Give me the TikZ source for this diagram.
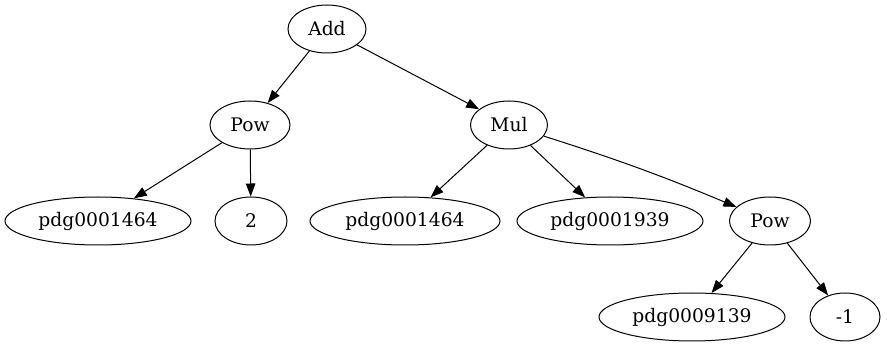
\documentclass[tikz,border=0pt]{standalone}
\usepackage{fontspec}
\setmainfont{DejaVu Serif}
\usetikzlibrary{shapes.geometric,arrows.meta}
\tikzset{
  tnode/.style={draw, ellipse, line width=1pt, inner sep=0pt, minimum height=48pt, font=\fontsize{18.7}{22}\selectfont},
  tedge/.style={draw, line width=1pt, -{Triangle[length=13pt,width=9.5pt]}}
}
\begin{document}
\begin{tikzpicture}[x=1pt,y=-1pt]
\useasboundingbox (0,0) rectangle (887,347);
\node[tnode, minimum width=78pt] (add) at (327,29) {Add};
\node[tnode, minimum width=80pt] (pow1) at (250,125) {Pow};
\node[tnode, minimum width=77pt] (mul) at (509,125) {Mul};
\node[tnode, minimum width=186pt] (p1) at (98,221) {pdg0001464};
\node[tnode, minimum width=72pt] (two) at (251,221) {2};
\node[tnode, minimum width=190pt] (p2) at (405,221) {pdg0001464};
\node[tnode, minimum width=186pt] (p3) at (610,221) {pdg0001939};
\node[tnode, minimum width=81pt] (pow2) at (770,221) {Pow};
\node[tnode, minimum width=186pt] (p4) at (692,317) {pdg0009139};
\node[tnode, minimum width=70pt] (m1) at (845,317) {-1};
\path[tedge] (add) -- (pow1);
\path[tedge] (add) -- (mul);
\path[tedge] (pow1) -- (p1);
\path[tedge] (pow1) -- (two);
\path[tedge] (mul) -- (p2);
\path[tedge] (mul) -- (p3);
\path[tedge] (mul) to[bend left=2.5] (pow2);
\path[tedge] (pow2) -- (p4);
\path[tedge] (pow2) -- (m1);
\end{tikzpicture}
\end{document}
